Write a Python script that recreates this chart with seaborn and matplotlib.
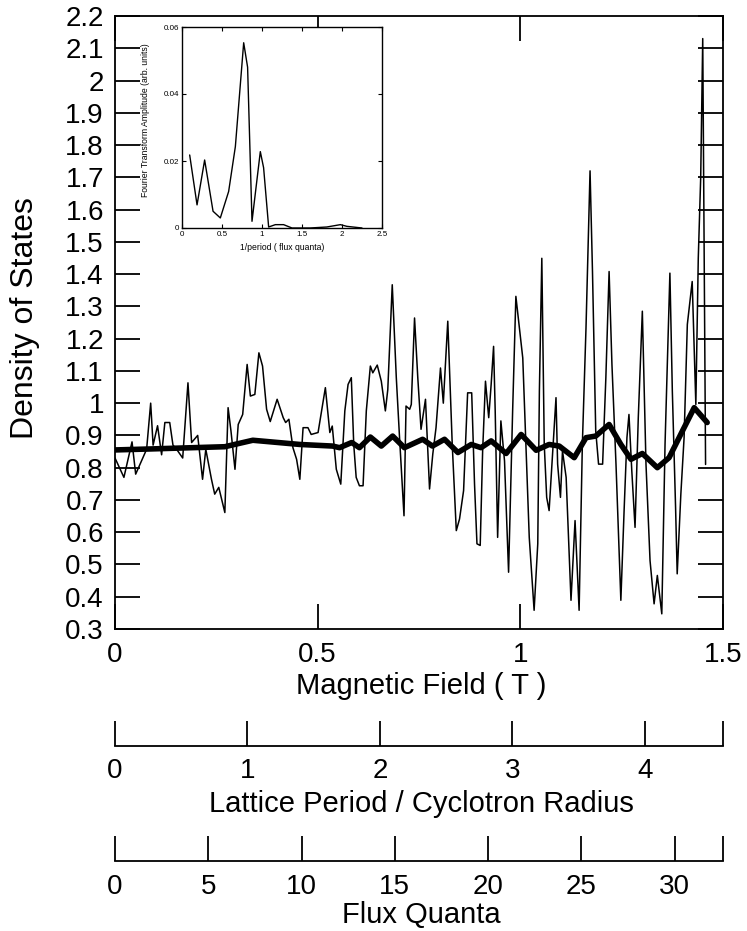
import numpy as np
import pandas as pd
import matplotlib
matplotlib.use("Agg")
import matplotlib.pyplot as plt
import seaborn as sns

# ---------------- data ----------------
# raw density of states vs magnetic field (T)
field_raw = [0.000, 0.022, 0.042, 0.051, 0.078, 0.088, 0.094, 0.105, 0.115, 0.123,
             0.135, 0.143, 0.152, 0.167, 0.180, 0.189, 0.204, 0.216, 0.224, 0.238,
             0.246, 0.256, 0.271, 0.279, 0.286, 0.296, 0.304, 0.315, 0.326, 0.334,
             0.345, 0.355, 0.364, 0.374, 0.383, 0.400, 0.415, 0.421, 0.429, 0.439,
             0.448, 0.456, 0.464, 0.476, 0.484, 0.501, 0.519, 0.530, 0.536, 0.546,
             0.557, 0.567, 0.575, 0.583, 0.589, 0.595, 0.603, 0.612, 0.620, 0.630,
             0.636, 0.647, 0.657, 0.667, 0.673, 0.684, 0.694, 0.702, 0.713, 0.718,
             0.727, 0.731, 0.739, 0.747, 0.755, 0.766, 0.776, 0.784, 0.792, 0.803,
             0.810, 0.821, 0.832, 0.842, 0.850, 0.860, 0.870, 0.880, 0.887, 0.893,
             0.901, 0.907, 0.914, 0.922, 0.928, 0.934, 0.938, 0.944, 0.952, 0.961,
             0.971, 0.981, 0.989, 1.006, 1.022, 1.034, 1.043, 1.047, 1.053, 1.059,
             1.065, 1.071, 1.080, 1.088, 1.092, 1.099, 1.104, 1.113, 1.125, 1.135,
             1.145, 1.153, 1.162, 1.172, 1.178, 1.186, 1.193, 1.203, 1.211, 1.219,
             1.226, 1.236, 1.248, 1.256, 1.263, 1.268, 1.275, 1.283, 1.291, 1.301,
             1.310, 1.320, 1.330, 1.338, 1.349, 1.357, 1.363, 1.369, 1.375, 1.383,
             1.387, 1.396, 1.404, 1.412, 1.424, 1.433, 1.439, 1.445, 1.450, 1.457]
dos_raw = [0.830, 0.770, 0.880, 0.780, 0.857, 1.000, 0.870, 0.930, 0.840, 0.940,
           0.940, 0.870, 0.857, 0.830, 1.063, 0.878, 0.900, 0.764, 0.857, 0.764,
           0.718, 0.739, 0.661, 0.986, 0.915, 0.795, 0.934, 0.965, 1.120, 1.022,
           1.027, 1.156, 1.115, 0.981, 0.943, 1.012, 0.955, 0.940, 0.950, 0.862,
           0.826, 0.764, 0.924, 0.924, 0.903, 0.909, 1.048, 0.909, 0.929, 0.795,
           0.749, 0.976, 1.058, 1.079, 0.872, 0.770, 0.744, 0.744, 0.976, 1.115,
           1.094, 1.118, 1.068, 0.976, 1.042, 1.367, 1.079, 0.893, 0.651, 0.991,
           0.981, 0.996, 1.264, 1.079, 0.919, 1.012, 0.734, 0.842, 0.924, 1.109,
           1.000, 1.254, 0.872, 0.605, 0.641, 0.729, 1.032, 1.032, 0.749, 0.564,
           0.559, 0.852, 1.068, 0.955, 1.058, 1.176, 0.976, 0.584, 0.945, 0.821,
           0.476, 0.976, 1.331, 1.140, 0.584, 0.358, 0.564, 1.037, 1.449, 0.872,
           0.708, 0.667, 0.852, 1.017, 0.811, 0.708, 0.852, 0.770, 0.389, 0.636,
           0.358, 0.872, 1.233, 1.720, 1.408, 0.914, 0.811, 0.811, 1.079, 1.408,
           1.120, 0.811, 0.389, 0.667, 0.893, 0.965, 0.790, 0.615, 0.955, 1.285,
           0.811, 0.512, 0.378, 0.466, 0.347, 0.872, 1.140, 1.403, 1.037, 0.677,
           0.471, 0.718, 0.893, 1.244, 1.377, 0.996, 1.449, 1.700, 2.130, 0.810]

# smoothed density of states
field_smooth = [0.000, 0.086, 0.271, 0.340, 0.456, 0.537, 0.554, 0.584, 0.603, 0.630,
                0.657, 0.685, 0.714, 0.759, 0.783, 0.813, 0.846, 0.879, 0.903, 0.928,
                0.965, 1.002, 1.039, 1.071, 1.096, 1.133, 1.162, 1.186, 1.219, 1.248,
                1.273, 1.301, 1.338, 1.367, 1.400, 1.429, 1.461]
dos_smooth = [0.855, 0.858, 0.865, 0.885, 0.872, 0.867, 0.862, 0.878, 0.862, 0.895,
              0.867, 0.898, 0.862, 0.888, 0.867, 0.888, 0.847, 0.872, 0.862, 0.883,
              0.844, 0.903, 0.854, 0.872, 0.867, 0.831, 0.893, 0.898, 0.934, 0.872,
              0.826, 0.844, 0.800, 0.831, 0.914, 0.986, 0.940]

# inset: Fourier transform
ft_freq = [0.096, 0.188, 0.283, 0.388, 0.479, 0.583, 0.667, 0.771, 0.820, 0.875,
           0.979, 1.020, 1.083, 1.167, 1.270, 1.375, 1.600, 1.810, 1.980, 2.060, 2.250]
ft_amp = [0.0218, 0.0069, 0.0203, 0.0050, 0.0030, 0.0109, 0.0243, 0.0553, 0.0480, 0.0020,
          0.0228, 0.0180, 0.0003, 0.0010, 0.0010, 0.0000, 0.0000, 0.0003, 0.0010, 0.0005, 0.0000]

# axis ranges / ticks
field_max = 1.5
lattice_max = 4.59
flux_max = 32.6
y_ticks = [round(0.3 + 0.1 * i, 1) for i in range(20)]
y_ticklabels = ["0.3", "0.4", "0.5", "0.6", "0.7", "0.8", "0.9", "1", "1.1", "1.2",
                "1.3", "1.4", "1.5", "1.6", "1.7", "1.8", "1.9", "2", "2.1", "2.2"]
x_ticks = [0, 0.5, 1, 1.5]
x_ticklabels = ["0", "0.5", "1", "1.5"]
lattice_ticks = [0, 1, 2, 3, 4]
flux_ticks = [0, 5, 10, 15, 20, 25, 30]
inset_xticks = [0, 0.5, 1, 1.5, 2, 2.5]
inset_xticklabels = ["0", "0.5", "1", "1.5", "2", "2.5"]
inset_yticks = [0, 0.02, 0.04, 0.06]
inset_yticklabels = ["0", "0.02", "0.04", "0.06"]

# ---------------- style ----------------
sns.set_theme(style="white")
plt.rcParams["font.family"] = ["Liberation Sans", "DejaVu Sans"]
plt.rcParams["axes.linewidth"] = 1.2

W, H = 747, 931
fig = plt.figure(figsize=(W / 100, H / 100), dpi=100)
fig.patch.set_facecolor("white")

def fx(px):
    return px / W

def fy(py):
    return 1 - py / H

L, R, T, B = 115, 723, 16, 629
ax = fig.add_axes([fx(L), fy(B), (R - L) / W, (B - T) / H])
ax.set_facecolor("white")

raw = pd.DataFrame({"field": field_raw, "dos": dos_raw})
smooth = pd.DataFrame({"field": field_smooth, "dos": dos_smooth})
sns.lineplot(data=raw, x="field", y="dos", ax=ax, color="black", lw=1.1,
             estimator=None, sort=False)
sns.lineplot(data=smooth, x="field", y="dos", ax=ax, color="black", lw=4.0,
             estimator=None, sort=False, solid_joinstyle="round", solid_capstyle="round")

ax.set_xlim(0, field_max)
ax.set_ylim(0.3, 2.2)
ax.set_xticks(x_ticks)
ax.set_xticklabels(x_ticklabels)
ax.set_yticks(y_ticks)
ax.set_yticklabels(y_ticklabels)
ax.tick_params(axis="both", direction="in", length=18, width=1.3,
               top=True, right=True, bottom=True, left=True,
               labelsize=20, colors="black")
ax.tick_params(axis="y", pad=8)
ax.tick_params(axis="x", pad=9)
for s in ax.spines.values():
    s.set_color("black")
    s.set_linewidth(1.3)

ax.set_xlabel("Magnetic Field ( T )", fontsize=21, color="black")
ax.xaxis.set_label_coords(fx(421), fy(686), transform=fig.transFigure)
ax.xaxis.label.set_va("center")
ax.set_ylabel("Density of States", fontsize=23, color="black")
ax.yaxis.set_label_coords(fx(25), fy(318), transform=fig.transFigure)
ax.yaxis.label.set_va("center")

# ---------------- inset ----------------
axi = fig.add_axes([fx(182), fy(228), 200 / W, 201 / H])
axi.set_facecolor("white")
ft = pd.DataFrame({"freq": ft_freq, "amp": ft_amp})
sns.lineplot(data=ft, x="freq", y="amp", ax=axi, color="black", lw=1.0,
             estimator=None, sort=False)
axi.set_xlim(0, 2.5)
axi.set_ylim(0, 0.06)
axi.set_xticks(inset_xticks)
axi.set_xticklabels(inset_xticklabels)
axi.set_yticks(inset_yticks)
axi.set_yticklabels(inset_yticklabels)
axi.tick_params(axis="both", direction="in", length=3, width=0.8,
                top=True, right=True, bottom=True, left=True,
                labelsize=5.8, pad=2, colors="black")
for s in axi.spines.values():
    s.set_color("black")
    s.set_linewidth(1.0)
axi.set_xlabel("1/period ( flux quanta)", fontsize=6.2, color="black")
axi.xaxis.set_label_coords(fx(282), fy(248), transform=fig.transFigure)
axi.xaxis.label.set_va("center")
axi.set_ylabel("Fourier Transform Amplitude (arb. units)", fontsize=6.2, color="black")
axi.yaxis.set_label_coords(fx(146), fy(120), transform=fig.transFigure)
axi.yaxis.label.set_va("center")

# ---------------- secondary scales ----------------
def scale_axis(py_line, xmax, ticks, label, label_py):
    a = fig.add_axes([fx(L), fy(py_line), (R - L) / W, 0.0001])
    a.set_facecolor("none")
    for k in ("top", "left", "right"):
        a.spines[k].set_visible(False)
    a.spines["bottom"].set_color("black")
    a.spines["bottom"].set_linewidth(1.3)
    a.set_yticks([])
    a.set_xlim(0, xmax)
    a.set_xticks(ticks)
    a.set_xticklabels([str(t) for t in ticks])
    a.set_xticks([xmax], minor=True)
    a.tick_params(axis="x", which="both", direction="in", length=18, width=1.3,
                  bottom=True, top=False, labelsize=20, pad=9, colors="black")
    a.set_xlabel(label, fontsize=21, color="black")
    a.xaxis.set_label_coords(fx(421), fy(label_py), transform=fig.transFigure)
    a.xaxis.label.set_va("center")
    return a

scale_axis(746, lattice_max, lattice_ticks, "Lattice Period / Cyclotron Radius", 804)
scale_axis(861, flux_max, flux_ticks, "Flux Quanta", 915)

fig.savefig("out.png", dpi=100, facecolor="white")
